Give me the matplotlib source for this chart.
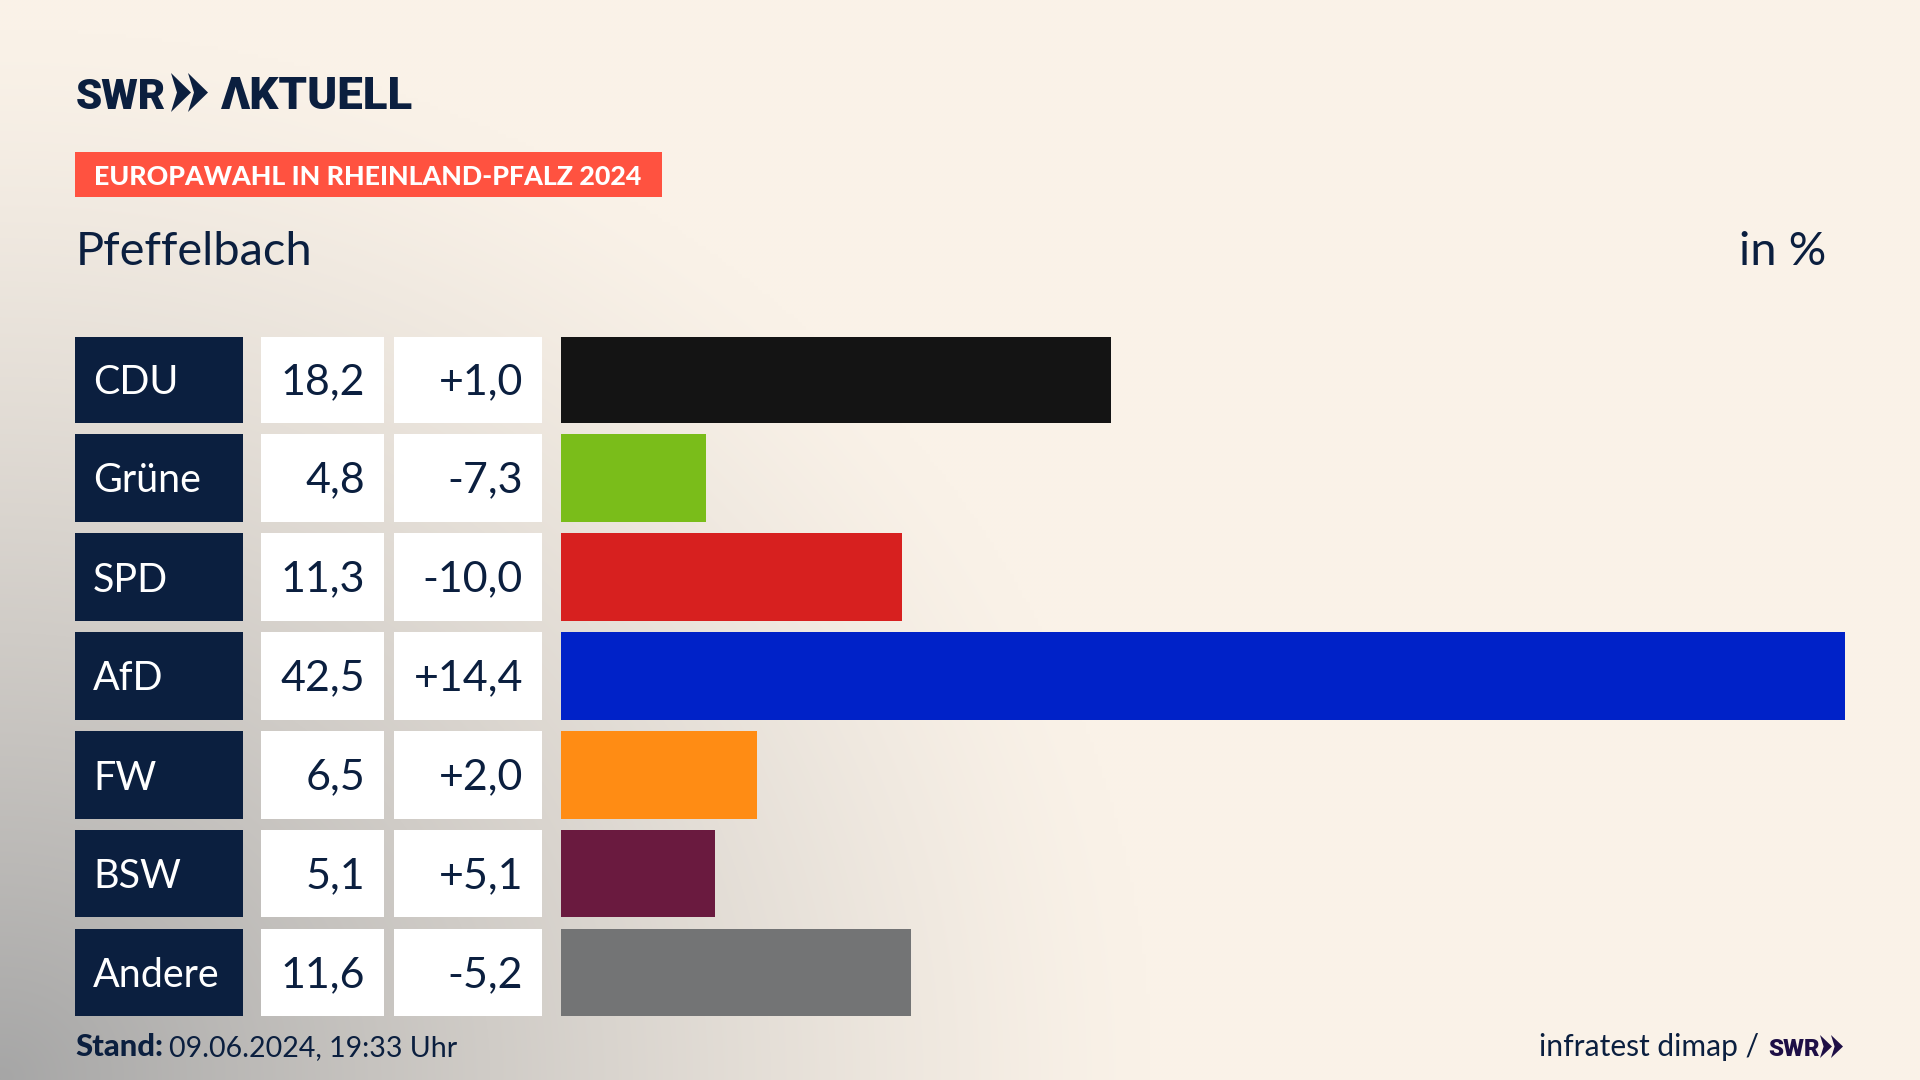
import numpy as np
import matplotlib
matplotlib.use("Agg")
import matplotlib.pyplot as plt
from matplotlib.patches import Rectangle, Polygon

# --- data ---
parties = ["CDU", "Grüne", "SPD", "AfD", "FW", "BSW", "Andere"]
shares = [18.2, 4.8, 11.3, 42.5, 6.5, 5.1, 11.6]
diffs = [1.0, -7.3, -10.0, 14.4, 2.0, 5.1, -5.2]
colors = ["#141414", "#7ABD1A", "#D7201F", "#0022C8", "#FF8C14", "#6A1A3F", "#737475"]
banner_text = "EUROPAWAHL IN RHEINLAND-PFALZ 2024"
place = "Pfeffelbach"
unit = "in %"
stand_bold = "Stand:"
stand_text = "09.06.2024, 19:33 Uhr"
source = "infratest dimap /"

NAVY = "#0B1F3F"
FONT = "Lato"
W, H = 1920, 1080
px = 0.72  # px -> pt at dpi 100

fig = plt.figure(figsize=(W / 100, H / 100), dpi=100)

# background
bgax = fig.add_axes([0, 0, 1, 1])
bgax.axis("off")
yy, xx = np.mgrid[0:H:270j, 0:W:480j]
d = np.sqrt((xx / 1150) ** 2 + ((H - yy) / 1050) ** 2)
t = np.clip(1 - d, 0, 1) ** 1.25
cream = np.array([0xFA, 0xF2, 0xE8]) / 255
gray = np.array([0xA6, 0xA6, 0xA6]) / 255
img = cream[None, None, :] * (1 - t[..., None]) + gray[None, None, :] * t[..., None]
bgax.imshow(img, extent=(0, W, H, 0), aspect="auto", interpolation="bilinear", zorder=0)
bgax.set_xlim(0, W)
bgax.set_ylim(H, 0)

# row geometry
row_top = [336.5, 434, 533, 632, 731, 830, 929]
row_h = [86.5, 88, 88, 88, 88, 87, 87]

# bars
x0, x1 = 561, 1845
top, bottom = 336, 1016
barax = fig.add_axes([x0 / W, 1 - bottom / H, (x1 - x0) / W, (bottom - top) / H])
barax.patch.set_alpha(0)
barax.axis("off")
barax.set_xlim(0, max(shares))
barax.set_ylim(bottom, top)
centers = [r + h / 2 for r, h in zip(row_top, row_h)]
barax.barh(centers, shares, height=row_h, color=colors, linewidth=0)


def txt(x, y, s, size, color=NAVY, weight="normal", ha="left", va="baseline", fam=FONT, **kw):
    return bgax.text(x, y, s, fontsize=size * px, color=color, fontweight=weight,
                     ha=ha, va=va, family=fam, zorder=5, **kw)


for i, (p, v, dv) in enumerate(zip(parties, shares, diffs)):
    r, h = row_top[i], row_h[i]
    bgax.add_patch(Rectangle((75, r), 167.5, h, fc=NAVY, ec="none", zorder=3))
    bgax.add_patch(Rectangle((261, r), 123, h, fc="white", ec="none", zorder=3))
    bgax.add_patch(Rectangle((394, r), 148, h, fc="white", ec="none", zorder=3))
    base = r + h / 2 + 14.5
    txt(93, base, p, 39.5, color="white")
    txt(365, base, f"{v:.1f}".replace(".", ","), 43, ha="right")
    txt(523, base, f"{dv:+.1f}".replace(".", ","), 43, ha="right")


# logo
def chevrons(xs, y0, y1, w, gap, color):
    ym = (y0 + y1) / 2
    notch = w * 0.3
    for k in range(2):
        xa = xs + k * gap
        bgax.add_patch(Polygon([(xa, y0), (xa + w, ym), (xa, y1), (xa + notch, ym)],
                               closed=True, fc=color, ec="none", zorder=5))


txt(76, 109, "SWR", 42, weight="black", fam="Roboto")
chevrons(171, 73, 112, 20, 17, NAVY)
txt(221, 109, "ΛKTUELL", 45.5, weight="black", fam="Roboto")

# banner
bgax.add_patch(Rectangle((75, 152), 587, 45, fc="#FF5240", ec="none", zorder=3))
txt(94, 185, banner_text, 26.8, color="white", weight="black")

# headline
txt(76, 265, place, 47)
txt(1826, 265, unit, 47, ha="right")

# footer
txt(75, 1056, stand_bold, 31, weight="black")
txt(169, 1056, stand_text, 28.5)
txt(1539, 1056, source, 30)
txt(1768, 1056, "SWR", 24, color="#1E0F46", weight="black", fam="Roboto")
chevrons(1820, 1035, 1058, 12, 11, "#1E0F46")

fig.savefig("out.png", dpi=100)
